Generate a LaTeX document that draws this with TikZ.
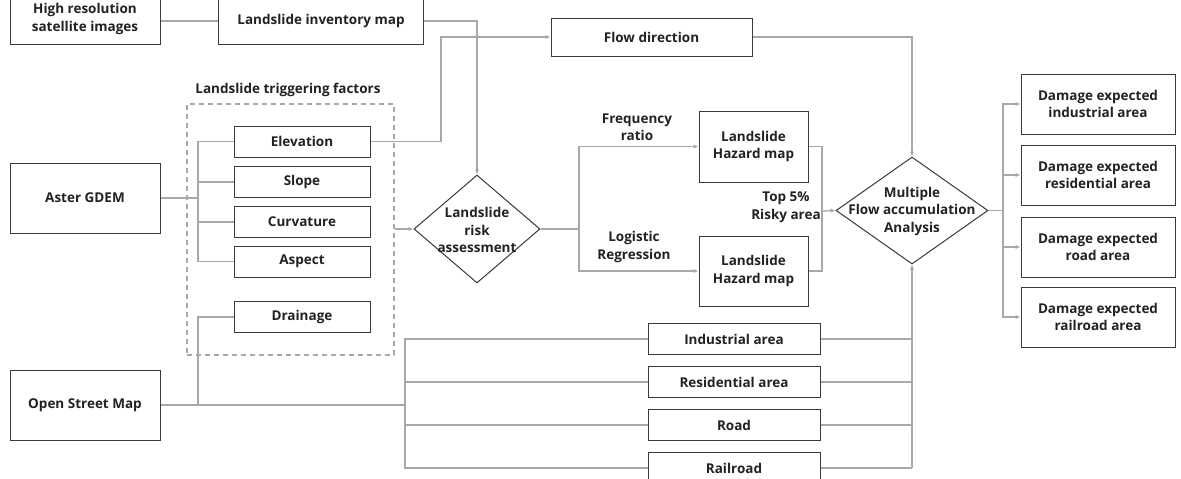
\documentclass[tikz,border=0pt]{standalone}
\usepackage{fontspec}
\setmainfont{Open Sans}
\usetikzlibrary{shapes.geometric,arrows.meta}
\definecolor{conn}{HTML}{A8A8A8}
\definecolor{bord}{HTML}{3A3A3A}
\definecolor{txt}{HTML}{222222}
\begin{document}
\begin{tikzpicture}[x=1pt,y=-1pt,
  every node/.style={font=\bfseries\fontsize{13.5}{17.5}\selectfont, text=txt, align=center, inner sep=0pt},
  box/.style={draw=bord, line width=1pt, fill=white},
  fbox/.style={box, minimum width=136pt, minimum height=31pt},
  abox/.style={box, minimum width=172pt, minimum height=31pt},
  dbox/.style={box, minimum width=154pt, minimum height=60pt},
  hbox/.style={box, minimum width=109pt, minimum height=70pt},
  sbox/.style={box, minimum width=150pt, minimum height=70pt},
  dia/.style={draw=bord, line width=1pt, diamond, fill=white},
  lab/.style={},
  con/.style={draw=conn, line width=1.3pt},
  arr/.style={con, -{Latex[length=5pt,width=4.5pt]}}
]
\useasboundingbox (0,0) rectangle (1181,479);
\clip (0,0) rectangle (1181,479);

% dashed frame and title
\node[draw=conn, dashed, line width=1.2pt, dash pattern=on 5pt off 4pt, minimum width=207pt, minimum height=251pt] (tf) at (290.5,229.5) {};
\node[lab] (tftitle) at (288,90) {Landslide triggering factors};

% left sources
\node[box, minimum width=150pt, minimum height=50pt] (hrs) at (85,19) {High resolution\\satellite images};
\node[box, minimum width=205pt, minimum height=46pt] (lim) at (321,21) {Landslide inventory map};
\node[sbox] (aster) at (85,198) {Aster GDEM};
\node[sbox] (osm) at (85,405) {Open Street Map};

% factors
\node[fbox] (elev) at (302,141.5) {Elevation};
\node[fbox] (slope) at (302,182) {Slope};
\node[fbox] (curv) at (302,222) {Curvature};
\node[fbox] (aspect) at (302,261.5) {Aspect};
\node[fbox] (drain) at (302,317) {Drainage};

% flow direction
\node[box, minimum width=201pt, minimum height=38pt] (flow) at (651.5,37) {Flow direction};

% risk diamond
\node[dia, minimum width=126pt, minimum height=108pt] (risk) at (477,229) {};
\node (risktxt) at (477,230) {Landslide\\risk\\assessment};

% hazard maps
\node[hbox, minimum height=71pt] (hz1) at (753.5,146.5) {Landslide\\Hazard map};
\node[hbox] (hz2) at (753.5,271) {Landslide\\Hazard map};
\node[lab] (fr) at (637,127) {Frequency\\ratio};
\node[lab] (lr) at (634,247) {Logistic\\Regression};
\node[lab] (top) at (786,207) {Top 5\%\\Risky area};

% multiple diamond
\node[dia, minimum width=152pt, minimum height=107pt] (multi) at (912,210.5) {};
\node (multitxt) at (912,211) {Multiple\\Flow accumulation\\Analysis};

% area boxes
\node[abox] (ind) at (734,339) {Industrial area};
\node[abox] (res) at (734,382) {Residential area};
\node[abox] (road) at (734,425) {Road};
\node[abox, minimum height=32pt] (rail) at (734,468) {Railroad};

% damage boxes
\node[dbox] (d1) at (1098,104) {Damage expected\\industrial area};
\node[dbox] (d2) at (1098,175) {Damage expected\\residential area};
\node[dbox] (d3) at (1098,247) {Damage expected\\road area};
\node[dbox] (d4) at (1098,317) {Damage expected\\railroad area};

% bus coordinates
\coordinate (fbus) at (198,0);
\coordinate (abus) at (405,0);
\coordinate (ebend) at (441,37);
\coordinate (hbus) at (579,0);
\coordinate (mbus) at (822,211);
\coordinate (dbus) at (1003,0);

% connectors
\draw[con] (hrs.east |- lim.west) -- (lim.west);
\draw[arr] (lim.east) -| (risk.north);
\draw[arr] (elev.east) -| (ebend) -- (flow.west);
\draw[arr] (flow.east) -| (multi.north);

\draw[con] (aster.east) -- (aster.east -| fbus);
\draw[con] (elev.west) -- (elev.west -| fbus) -- (aspect.west -| fbus) -- (aspect.west);
\draw[con] (slope.west) -- (slope.west -| fbus);
\draw[con] (curv.west) -- (curv.west -| fbus);

\draw[con] (osm.east) -- (osm.east -| abus);
\draw[con] (drain.west) -| (osm.east -| fbus);
\draw[con] (ind.west) -- (ind.west -| abus) -- (rail.west -| abus) -- (rail.west);
\draw[con] (res.west) -- (res.west -| abus);
\draw[con] (road.west) -- (road.west -| abus);

\draw[arr] (tf.east |- risk.west) -- (risk.west);
\draw[con] (risk.east) -- (risk.east -| hbus);
\draw[arr] (risk.east -| hbus) |- (hz1.west);
\draw[arr] (risk.east -| hbus) |- (hz2.west);

\draw[con] (hz1.east) -| (mbus) |- (hz2.east);
\draw[arr] (mbus) -- (multi.west);

\draw[con] (ind.east) -- (ind.east -| multi.south);
\draw[con] (res.east) -- (res.east -| multi.south);
\draw[con] (road.east) -- (road.east -| multi.south);
\draw[con] (rail.east) -- (rail.east -| multi.south);
\draw[arr] (rail.east -| multi.south) -- (multi.south);

\draw[con] (multi.east) -- (multi.east -| dbus);
\draw[arr] (multi.east -| dbus) |- (d1.west);
\draw[arr] (multi.east -| dbus) |- (d4.west);
\draw[arr] (d2.west -| dbus) -- (d2.west);
\draw[arr] (d3.west -| dbus) -- (d3.west);
\end{tikzpicture}
\end{document}
